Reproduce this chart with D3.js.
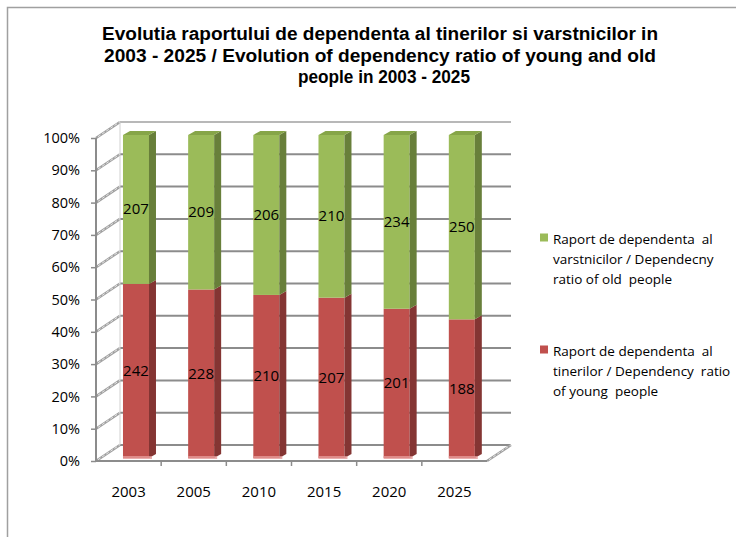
<!DOCTYPE html>
<html>
<head>
<meta charset="utf-8">
<script src="https://cdn.jsdelivr.net/npm/d3@7"></script>
<style>
  body { margin: 0; background: #fff; }
  text { font-family: "Open Sans", sans-serif; fill: #000; }
</style>
</head>
<body>
<div id="chart"></div>
<script>
var years = ["2003", "2005", "2010", "2015", "2020", "2025"];
var young = [242, 228, 210, 207, 201, 188];
var old = [207, 209, 206, 210, 234, 250];
var ticks = [0, 0.1, 0.2, 0.3, 0.4, 0.5, 0.6, 0.7, 0.8, 0.9, 1];
var titleLines = [
  "Evolutia raportului de dependenta al tinerilor si varstnicilor in",
  "2003 - 2025 / Evolution of dependency ratio of young and old",
  "people in 2003 - 2025"
];
var legendOld = ["Raport de dependenta  al", "varstnicilor / Dependecny", "ratio of old  people"];
var legendYoung = ["Raport de dependenta  al", "tinerilor / Dependency  ratio", "of young  people"];

var W = 736, H = 537;
// 3d offsets: wall depth and bar placement/depth
var wd = { x: 24, y: -16 };
var bo = { x: 7.4, y: -3 };
var bd = { x: 7, y: -4 };

var svg = d3.select("#chart").append("svg")
  .attr("width", W)
  .attr("height", H);

svg.append("rect").attr("width", W).attr("height", H).attr("fill", "#fff");

// outer border (only left and top visible)
svg.append("path")
  .attr("d", "M7.5," + H + "V7.5H" + W)
  .attr("fill", "none")
  .attr("stroke", "#a0a0a0")
  .attr("stroke-width", 1.5);

var x = d3.scaleBand().domain(years).range([96, 487]).paddingInner(0).paddingOuter(0);
var y = d3.scaleLinear().domain([0, 1]).range([461, 138]);

// title
svg.append("g").selectAll("text")
  .data(titleLines)
  .enter()
  .append("text")
  .attr("x", function (d, i) { return i === 2 ? 384 : 380; })
  .attr("y", function (d, i) { return 40 + i * 21.5; })
  .attr("text-anchor", "middle")
  .style("font-family", "'Liberation Sans', Arial, sans-serif")
  .style("font-weight", "bold")
  .style("font-size", "18px")
  .attr("textLength", function (d, i) { return [556, 552, 172][i]; })
  .attr("lengthAdjust", "spacingAndGlyphs")
  .text(function (d) { return d; });

// walls
var x0 = x.range()[0], x1 = x.range()[1];
svg.append("polygon")
  .attr("points", [[x0, y(1)], [x0 + wd.x, y(1) + wd.y], [x0 + wd.x, y(0) + wd.y], [x0, y(0)]].join(" "))
  .attr("fill", "#fff");

var grid = svg.append("g");
grid.selectAll(".back")
  .data(ticks)
  .enter()
  .append("line")
  .attr("x1", x0 + wd.x)
  .attr("x2", x1 + wd.x)
  .attr("y1", function (d) { return y(d) + wd.y; })
  .attr("y2", function (d) { return y(d) + wd.y; })
  .attr("stroke", function (d) { return d === 1 ? "#b8b8b8" : "#8c8c8c"; })
  .attr("stroke-width", 2);

// left wall diagonals (shaded)
grid.selectAll(".side")
  .data(ticks)
  .enter()
  .append("line")
  .attr("x1", x0)
  .attr("x2", x0 + wd.x)
  .attr("y1", function (d) { return y(d); })
  .attr("y2", function (d) { return y(d) + wd.y; })
  .attr("stroke", "#a0a0a0")
  .attr("stroke-width", 2.5);
grid.selectAll(".side2")
  .data(ticks)
  .enter()
  .append("line")
  .attr("x1", x0 + 2)
  .attr("x2", x0 + wd.x)
  .attr("y1", function (d) { return y(d) - 1.3; })
  .attr("y2", function (d) { return y(d) + wd.y - 0.3; })
  .attr("stroke", "#e6e6e6")
  .attr("stroke-width", 1)
  .attr("stroke-dasharray", "3,2");

// back wall left edge
svg.append("line")
  .attr("x1", x0 + wd.x).attr("x2", x0 + wd.x)
  .attr("y1", y(1) + wd.y).attr("y2", y(0) + wd.y)
  .attr("stroke", "#d0d0d0").attr("stroke-width", 1);

// floor right edge
svg.append("line")
  .attr("x1", x1).attr("x2", x1 + wd.x)
  .attr("y1", y(0)).attr("y2", y(0) + wd.y)
  .attr("stroke", "#a0a0a0").attr("stroke-width", 2.5);
svg.append("line")
  .attr("x1", x1 + 2).attr("x2", x1 + wd.x)
  .attr("y1", y(0) - 1.3).attr("y2", y(0) + wd.y - 0.3)
  .attr("stroke", "#e6e6e6").attr("stroke-width", 1)
  .attr("stroke-dasharray", "3,2");

// bars
var bw = 26;
var segs = [];
years.forEach(function (yr, i) {
  var tot = young[i] + old[i];
  segs.push({ yr: yr, v: young[i], a: 0, b: young[i] / tot, front: "#C0504D", side: "#843533", top: "#a8433f" });
  segs.push({ yr: yr, v: old[i], a: young[i] / tot, b: 1, front: "#9BBB59", side: "#687f3a", top: "#86a548" });
});

function bx(d) { return x(d.yr) + x.bandwidth() / 2 + bo.x - bw / 2; }

var bars = svg.append("g").selectAll("g")
  .data(segs)
  .enter()
  .append("g");

bars.append("rect")
  .attr("x", bx)
  .attr("y", function (d) { return y(d.b) + bo.y; })
  .attr("width", bw)
  .attr("height", function (d) { return y(d.a) - y(d.b); })
  .attr("fill", function (d) { return d.front; });

bars.append("polygon")
  .attr("points", function (d) {
    var l = bx(d) + bw, t = y(d.b) + bo.y, b = y(d.a) + bo.y;
    return [[l, t], [l + bd.x, t + bd.y], [l + bd.x, b + bd.y], [l, b]].join(" ");
  })
  .attr("fill", function (d) { return d.side; });

bars.filter(function (d) { return d.b === 1; })
  .append("polygon")
  .attr("points", function (d) {
    var l = bx(d), t = y(1) + bo.y;
    return [[l, t], [l + bd.x, t + bd.y], [l + bw + bd.x, t + bd.y], [l + bw, t]].join(" ");
  })
  .attr("fill", function (d) { return d.top; });

// pink reflection at the bar foot
bars.filter(function (d) { return d.a === 0; })
  .append("rect")
  .attr("x", bx)
  .attr("y", y(0) + bo.y - 2)
  .attr("width", bw + 3)
  .attr("height", 3)
  .attr("fill", "#e59a98")
  .attr("opacity", 0.8);

// value labels
bars.append("text")
  .attr("x", function (d) { return bx(d) + bw / 2; })
  .attr("y", function (d) { return (y(d.a) + y(d.b)) / 2 + bo.y + 5; })
  .attr("text-anchor", "middle")
  .style("font-size", "15px")
  .text(function (d) { return d.v; });

// front axes
svg.append("line")
  .attr("x1", x0).attr("x2", x0)
  .attr("y1", y(1)).attr("y2", y(0))
  .attr("stroke", "#8c8c8c").attr("stroke-width", 2);
svg.append("line")
  .attr("x1", x0).attr("x2", x1)
  .attr("y1", y(0)).attr("y2", y(0))
  .attr("stroke", "#8c8c8c").attr("stroke-width", 2);

var yAxis = svg.append("g")
  .attr("transform", "translate(" + x0 + ",0)")
  .call(d3.axisLeft(y).tickValues(ticks).tickFormat(d3.format(".0%")).tickSize(5).tickPadding(11));
yAxis.select(".domain").remove();
yAxis.selectAll(".tick line").attr("stroke", "#8c8c8c").attr("stroke-width", 1.5);
yAxis.selectAll("text").style("font-size", "14.5px").style("font-family", "'Open Sans', sans-serif");

var xAxis = svg.append("g")
  .attr("transform", "translate(0," + y(0) + ")")
  .call(d3.axisBottom(x).tickSize(0).tickPadding(25));
xAxis.select(".domain").remove();
xAxis.selectAll("text").style("font-size", "15px").style("font-family", "'Open Sans', sans-serif");
xAxis.selectAll(".sep")
  .data(years.slice(1))
  .enter()
  .append("line")
  .attr("x1", function (d) { return x(d); })
  .attr("x2", function (d) { return x(d); })
  .attr("y1", 0).attr("y2", 5)
  .attr("stroke", "#8c8c8c").attr("stroke-width", 1.5);

// legend
var legend = svg.append("g");
var items = [
  { color: "#9BBB59", lines: legendOld, y: 237 },
  { color: "#C0504D", lines: legendYoung, y: 349 }
];
var li = legend.selectAll("g").data(items).enter().append("g")
  .attr("transform", function (d) { return "translate(540," + d.y + ")"; });
li.append("rect")
  .attr("x", 0).attr("y", -3.5)
  .attr("width", 8).attr("height", 8)
  .attr("fill", function (d) { return d.color; });
li.selectAll("text")
  .data(function (d) { return d.lines; })
  .enter()
  .append("text")
  .attr("x", 13)
  .attr("y", function (d, i) { return 7 + i * 20; })
  .style("font-size", "13.5px")
  .style("white-space", "pre")
  .text(function (d) { return d; });
</script>
</body>
</html>
